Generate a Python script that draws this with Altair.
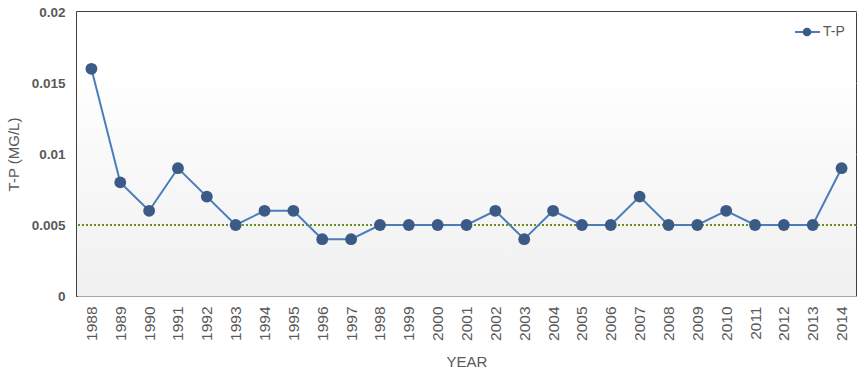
import altair as alt
import pandas as pd

years = [str(y) for y in range(1988, 2015)]
tp = [0.016, 0.008, 0.006, 0.009, 0.007, 0.005, 0.006, 0.006, 0.004, 0.004,
      0.005, 0.005, 0.005, 0.005, 0.006, 0.004, 0.006, 0.005, 0.005, 0.007,
      0.005, 0.005, 0.006, 0.005, 0.005, 0.005, 0.009]
standard = 0.005
y_ticks = [0, 0.005, 0.01, 0.015, 0.02]

df = pd.DataFrame({"year": years, "tp": tp})
W, H = 779, 284
FONT = "Liberation Sans"
GRAY = "#595959"

xscale = alt.Scale(type="point", padding=0.5, domain=years)
yscale = alt.Scale(domain=[0, 0.02], nice=False)

bg = alt.Chart(pd.DataFrame({"a": [0]})).mark_rect(
    color=alt.LinearGradient(
        gradient="linear",
        stops=[alt.GradientStop(color="#ffffff", offset=0.2),
               alt.GradientStop(color="#f0f0f0", offset=1)],
        x1=0, x2=0, y1=0, y2=1)
).encode(x=alt.value(0), x2=alt.value(W), y=alt.value(0), y2=alt.value(H))

xaxis = alt.Axis(labelAngle=-90, labelFontSize=15.5, labelColor=GRAY, labelFont=FONT,
                 title="YEAR", titleFontSize=15, titleColor=GRAY, titleFont=FONT,
                 titleFontWeight="normal", grid=True, gridColor="#d9d9d9",
                 domainColor="#a6a6a6", ticks=False, labelPadding=10, titlePadding=14)
yaxis = alt.Axis(values=y_ticks, format="~g", labelFontSize=13.5, labelFontWeight="bold",
                 labelColor=GRAY, labelFont=FONT, title="T-P (MG/L)", titleFontSize=15,
                 titleColor=GRAY, titleFont=FONT, titleFontWeight="normal",
                 grid=True, gridColor="#d9d9d9", domainColor="#000000", ticks=False,
                 labelPadding=12, titlePadding=10)

base = alt.Chart(df).encode(
    x=alt.X("year:N", scale=xscale, axis=xaxis, sort=years),
    y=alt.Y("tp:Q", scale=yscale, axis=yaxis),
)

line = base.mark_line(color="#4a7ebb", strokeWidth=2)
pts = base.mark_circle(color="#3b5a85", size=140, opacity=1)

std = alt.Chart(pd.DataFrame({"s": [standard]})).mark_rule(
    color="#6b8e23", strokeDash=[2, 2], strokeWidth=2
).encode(y=alt.Y("s:Q", scale=yscale))

leg_line = alt.Chart(pd.DataFrame({"a": [0]})).mark_rule(
    color="#4a7ebb", strokeWidth=2
).encode(x=alt.value(718), x2=alt.value(743), y=alt.value(20))
leg_pt = alt.Chart(pd.DataFrame({"a": [0]})).mark_circle(
    color="#3b5a85", size=75, opacity=1
).encode(x=alt.value(730), y=alt.value(20))
leg_txt = alt.Chart(pd.DataFrame({"a": [0]})).mark_text(
    text="T-P", align="left", baseline="middle", fontSize=14, color=GRAY, font=FONT
).encode(x=alt.value(746), y=alt.value(20))

chart = alt.layer(bg, std, line, pts, leg_line, leg_pt, leg_txt).properties(
    width=W, height=H,
    autosize=alt.AutoSizeParams(type="none"),
    padding={"left": 77, "top": 12, "right": 10, "bottom": 80},
).configure_view(stroke="#000000", strokeWidth=1.5)

chart.save("out.html", embed_options={"renderer": "svg", "actions": False})
